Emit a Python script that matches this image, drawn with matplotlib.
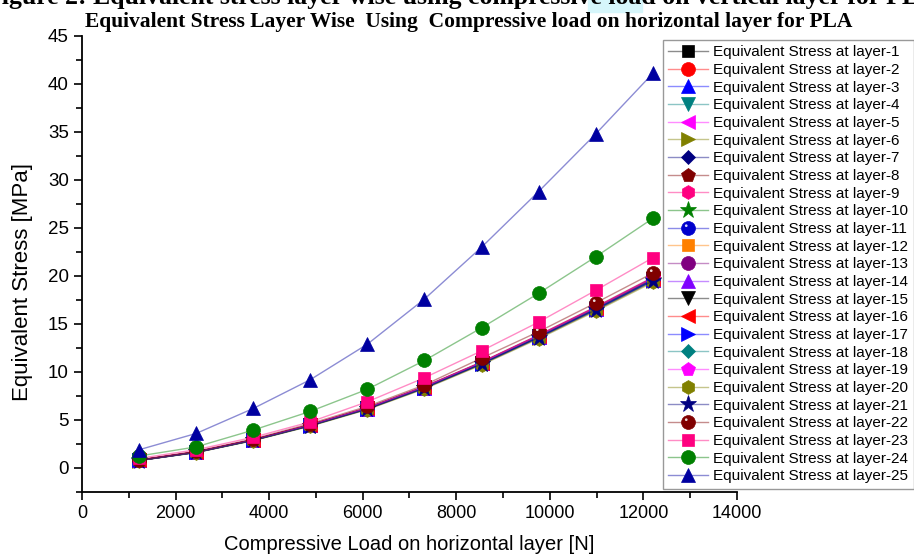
import matplotlib
matplotlib.use('Agg')
import matplotlib.pyplot as plt
from matplotlib.colors import to_rgba
from matplotlib.path import Path
from matplotlib.patches import Rectangle
from matplotlib.legend_handler import HandlerTuple
from matplotlib.ticker import MultipleLocator

# compressive load [N]
loads = [1220, 2440, 3660, 4880, 6100, 7320, 8540, 9760, 10980, 12200]

# equivalent stress [MPa] per layer
layer_01 = [0.80, 1.66, 2.92, 4.46, 6.22, 8.42, 10.96, 13.74, 16.66, 19.72]
layer_02 = [0.81, 1.67, 2.94, 4.49, 6.25, 8.46, 11.00, 13.80, 16.72, 19.78]
layer_03 = [0.79, 1.64, 2.90, 4.43, 6.18, 8.37, 10.90, 13.66, 16.56, 19.60]
layer_04 = [0.80, 1.65, 2.91, 4.45, 6.20, 8.40, 10.93, 13.71, 16.62, 19.66]
layer_05 = [0.81, 1.66, 2.93, 4.47, 6.23, 8.44, 10.97, 13.76, 16.68, 19.74]
layer_06 = [0.78, 1.62, 2.87, 4.39, 6.13, 8.30, 10.80, 13.55, 16.42, 19.44]
layer_07 = [0.80, 1.65, 2.91, 4.46, 6.21, 8.41, 10.94, 13.73, 16.64, 19.69]
layer_08 = [0.82, 1.68, 2.95, 4.51, 6.28, 8.50, 11.05, 13.86, 16.80, 19.86]
layer_09 = [0.81, 1.67, 2.94, 4.49, 6.26, 8.47, 11.01, 13.82, 16.74, 19.80]
layer_10 = [0.79, 1.63, 2.89, 4.42, 6.16, 8.35, 10.86, 13.62, 16.52, 19.55]
layer_11 = [0.80, 1.65, 2.92, 4.46, 6.22, 8.43, 10.96, 13.75, 16.66, 19.71]
layer_12 = [0.80, 1.66, 2.92, 4.47, 6.23, 8.44, 10.97, 13.77, 16.68, 19.73]
layer_13 = [0.81, 1.67, 2.93, 4.48, 6.24, 8.45, 10.99, 13.79, 16.71, 19.77]
layer_14 = [0.79, 1.64, 2.90, 4.44, 6.19, 8.38, 10.90, 13.67, 16.58, 19.62]
layer_15 = [0.80, 1.65, 2.91, 4.45, 6.20, 8.40, 10.92, 13.70, 16.61, 19.65]
layer_16 = [0.81, 1.66, 2.93, 4.47, 6.23, 8.43, 10.97, 13.76, 16.67, 19.72]
layer_17 = [0.79, 1.63, 2.89, 4.42, 6.17, 8.36, 10.87, 13.63, 16.53, 19.56]
layer_18 = [0.80, 1.65, 2.91, 4.45, 6.21, 8.41, 10.94, 13.72, 16.63, 19.68]
layer_19 = [0.81, 1.67, 2.94, 4.49, 6.25, 8.46, 11.00, 13.80, 16.72, 19.78]
layer_20 = [0.77, 1.60, 2.85, 4.36, 6.09, 8.25, 10.74, 13.47, 16.33, 19.33]
layer_21 = [0.78, 1.62, 2.88, 4.40, 6.14, 8.32, 10.82, 13.58, 16.46, 19.48]
layer_22 = [0.85, 1.74, 3.02, 4.62, 6.42, 8.65, 11.45, 14.20, 17.20, 20.30]
layer_23 = [1.00, 1.90, 3.20, 4.80, 6.90, 9.40, 12.20, 15.20, 18.50, 21.90]
layer_24 = [1.25, 2.20, 3.95, 5.90, 8.20, 11.20, 14.60, 18.20, 22.00, 26.00]
layer_25 = [1.90, 3.60, 6.20, 9.20, 12.90, 17.60, 23.00, 28.80, 34.80, 41.10]

stress = [layer_01, layer_02, layer_03, layer_04, layer_05, layer_06, layer_07,
          layer_08, layer_09, layer_10, layer_11, layer_12, layer_13, layer_14,
          layer_15, layer_16, layer_17, layer_18, layer_19, layer_20, layer_21,
          layer_22, layer_23, layer_24, layer_25]
labels = [f'Equivalent Stress at layer-{i}' for i in range(1, 26)]

colors = ['#000000', '#ff0000', '#0000ff', '#008080', '#ff00ff', '#808000',
          '#000080', '#800000', '#ff0080', '#008000', '#0000cd', '#ff8000',
          '#800080', '#8000ff', '#000000', '#ff0000', '#0000ff', '#008080',
          '#ff00ff', '#808000', '#000080', '#800000', '#ff0080', '#008000',
          '#0000a0']
markers = ['s', 'o', '^', 'v', '<', '>', 'D', 'p', 'h', '*', 'o', 's', 'o',
           '^', 'v', '<', '>', 'D', 'p', 'h', '*', 'o', 's', 'o', '^']
spheres = {10, 21}

plt.rcParams['font.family'] = ['Liberation Sans', 'DejaVu Sans']

fig = plt.figure(figsize=(9.14, 5.57), dpi=100)
ax = fig.add_axes([82 / 914, 1 - 492 / 557, (737 - 82) / 914, (492 - 36) / 557])

# small white spot for the "ball" markers
hl_path = Path.circle(center=(-0.2, 0.25), radius=0.12)

ms = 10
handles = []
for i, (ys, c, m) in enumerate(zip(stress, colors, markers)):
    size = ms
    if m == 'D':
        size = ms * 0.75
    elif m == '*':
        size = ms * 1.25
    elif m == 's':
        size = ms * 0.9
    ln, = ax.plot(loads, ys, color=to_rgba(c, 0.45), lw=1.0, marker=m,
                  ms=size, mfc=c, mec=c, mew=0.5, label=labels[i], zorder=3)
    if i in spheres:
        hl, = ax.plot(loads, ys, ls='none', marker=hl_path, ms=size * 0.6,
                      mfc=(1, 1, 1, 0.85), mec='none', zorder=3)
        handles.append((ln, hl))
    else:
        handles.append(ln)

ax.set_xlim(0, 14000)
ax.set_ylim(-2.5, 45)
ax.xaxis.set_major_locator(MultipleLocator(2000))
ax.xaxis.set_minor_locator(MultipleLocator(1000))
ax.yaxis.set_major_locator(MultipleLocator(5))
ax.yaxis.set_minor_locator(MultipleLocator(2.5))
ax.tick_params(which='both', direction='out', width=1.2)
ax.tick_params(which='major', length=6)
ax.tick_params(which='minor', length=4)
ax.tick_params(axis='x', labelsize=13)
ax.tick_params(axis='y', labelsize=13.5)
for s in ['top', 'right']:
    ax.spines[s].set_visible(False)
for s in ['left', 'bottom']:
    ax.spines[s].set_linewidth(1.3)

ax.set_xlabel('Compressive Load on horizontal layer [N]', fontsize=14.5, labelpad=9)
fig.text(23 / 914, 1 - 282 / 557, 'Equivalent Stress [MPa]', fontsize=16,
         rotation=90, ha='center', va='center')

leg = fig.legend(handles, labels, loc='upper left',
                 bbox_to_anchor=(663 / 914, 1 - 40 / 557),
                 fontsize=11, labelspacing=0.24, handlelength=2.6,
                 handletextpad=0.35, borderpad=0.35, borderaxespad=0,
                 frameon=True, fancybox=False, numpoints=1,
                 handler_map={tuple: HandlerTuple(ndivide=1, pad=0)})
leg.get_frame().set_edgecolor('#808080')
leg.get_frame().set_linewidth(1.0)

# page caption cut off at top and the chart title
fig.patches.append(Rectangle((588 / 914, 1 - 12 / 557), 54 / 914, 12 / 557,
                             transform=fig.transFigure, color='#d6f6fb', zorder=0))
fig.text(-14 / 914, 1 - 4 / 557,
         'Figure 2: Equivalent stress layer wise using compressive load on vertical layer for PLA',
         fontsize=18.5, fontweight='bold', family='Liberation Serif', va='baseline', ha='left')
fig.text(469 / 914, 1 - 27.5 / 557,
         'Equivalent Stress Layer Wise  Using  Compressive load on horizontal layer for PLA',
         fontsize=15.5, fontweight='bold', family='Liberation Serif', va='baseline', ha='center')

fig.savefig('out.png', dpi=100)
